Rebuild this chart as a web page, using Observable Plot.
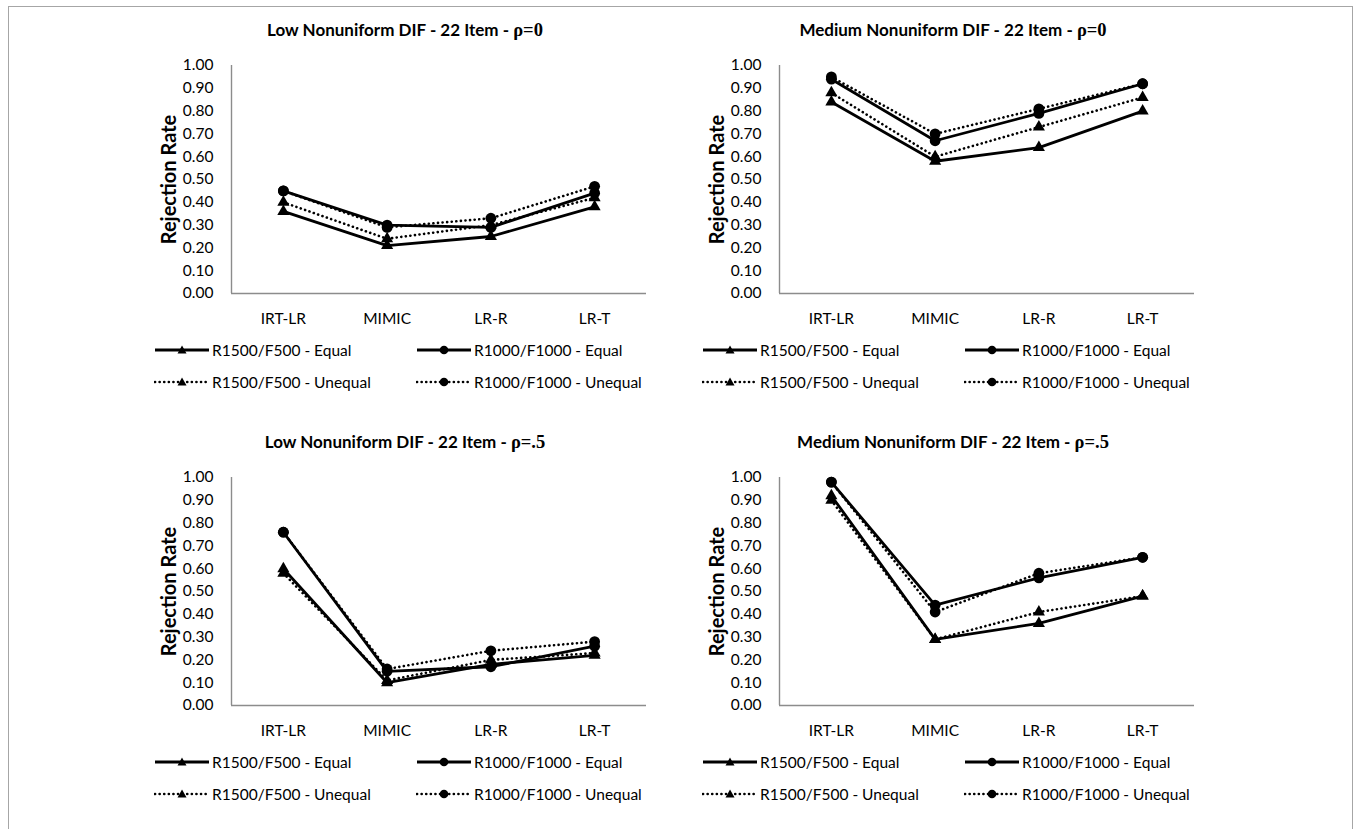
<!DOCTYPE html>
<html><head><meta charset="utf-8">
<script src="https://cdn.jsdelivr.net/npm/d3@7"></script>
<script src="https://cdn.jsdelivr.net/npm/@observablehq/plot@0.6"></script>
<style>
body{margin:0;background:#fff;}
#root{position:relative;width:1356px;height:829px;overflow:hidden;font-family:Lato,sans-serif;color:#000;}
.border{position:absolute;left:8px;top:6px;width:1345px;height:840px;border:1.5px solid #a6a6a6;box-sizing:border-box;}
.title{position:absolute;width:530px;text-align:center;font-weight:bold;font-size:17px;line-height:20px;white-space:nowrap;}
.title .rho{font-family:"Liberation Serif",serif;font-weight:bold;font-size:18.5px;}
.panel{position:absolute;}
.leg{position:absolute;font-size:15.5px;line-height:16px;white-space:nowrap;display:flex;align-items:center;}
.leg svg{margin-right:2px;}
</style></head>
<body><div id="root"><div class="border"></div></div>
<script>
const categories = ["IRT-LR", "MIMIC", "LR-R", "LR-T"];
const seriesNames = ["R1500/F500 - Equal", "R1000/F1000 - Equal", "R1500/F500 - Unequal", "R1000/F1000 - Unequal"];
const yTicks = [0, 0.1, 0.2, 0.3, 0.4, 0.5, 0.6, 0.7, 0.8, 0.9, 1.0];
const titleMain = ["Low Nonuniform DIF - 22 Item - ", "Medium Nonuniform DIF - 22 Item - ", "Low Nonuniform DIF - 22 Item - ", "Medium Nonuniform DIF - 22 Item - "];
const titleRho = ["ρ=0", "ρ=0", "ρ=.5", "ρ=.5"];
const yLabel = "Rejection Rate";

// values: [series][category]
const lowRho0 = [
  [0.36, 0.21, 0.25, 0.38],
  [0.45, 0.30, 0.29, 0.44],
  [0.40, 0.24, 0.30, 0.42],
  [0.45, 0.29, 0.33, 0.47]
];
const medRho0 = [
  [0.84, 0.58, 0.64, 0.80],
  [0.94, 0.67, 0.79, 0.92],
  [0.88, 0.60, 0.73, 0.86],
  [0.95, 0.70, 0.81, 0.92]
];
const lowRho5 = [
  [0.60, 0.10, 0.18, 0.22],
  [0.76, 0.15, 0.17, 0.26],
  [0.58, 0.11, 0.20, 0.23],
  [0.76, 0.16, 0.24, 0.28]
];
const medRho5 = [
  [0.92, 0.29, 0.36, 0.48],
  [0.98, 0.44, 0.56, 0.65],
  [0.90, 0.29, 0.41, 0.48],
  [0.98, 0.41, 0.58, 0.65]
];
const panelData = [lowRho0, medRho0, lowRho5, medRho5];

const panelPos = [
  {left: 140, top: 55},
  {left: 688, top: 55},
  {left: 140, top: 467},
  {left: 688, top: 467}
];

const root = document.getElementById("root");
const dotted = "0.1,4.5";

function makePanel(values) {
  const rows = [];
  values.forEach((vals, si) => vals.forEach((v, ci) => rows.push({si, x: ci, y: v})));
  const marks = [
    Plot.ruleY([0], {stroke: "#8c8c8c", strokeWidth: 1.4}),
    Plot.ruleX([-0.5], {stroke: "#8c8c8c", strokeWidth: 1.4})
  ];
  seriesNames.forEach((s, si) => {
    const dash = si >= 2;
    marks.push(Plot.line(rows.filter(r => r.si === si), {
      x: "x", y: "y", stroke: "#000", strokeWidth: dash ? 2.6 : 2.8,
      strokeDasharray: dash ? dotted : null, strokeLinecap: dash ? "round" : "butt"
    }));
  });
  marks.push(Plot.dot(rows.filter(r => r.si % 2 === 0), {x: "x", y: "y", symbol: "triangle", r: 4.5, fill: "#000", stroke: "none"}));
  marks.push(Plot.dot(rows.filter(r => r.si % 2 === 1), {x: "x", y: "y", symbol: "circle", r: 5.4, fill: "#000", stroke: "none"}));
  marks.push(Plot.text([yLabel], {frameAnchor: "left", textAnchor: "middle", rotate: -90, dx: -62, fontWeight: "bold", fontSize: 20, fill: "#000"}));
  return Plot.plot({
    width: 530, height: 280,
    marginLeft: 91, marginRight: 24, marginTop: 10, marginBottom: 42,
    style: {fontFamily: "Lato, sans-serif", fontSize: "15.5px", color: "#000", background: "transparent"},
    x: {type: "linear", domain: [-0.5, 3.5], ticks: [0, 1, 2, 3], tickFormat: i => categories[i], tickSize: 0, tickPadding: 19, label: null},
    y: {domain: [0, 1], ticks: yTicks, tickFormat: d3.format(".2f"), tickSize: 0, tickPadding: 18, label: null},
    marks
  });
}

function swatch(si) {
  const ns = "http://www.w3.org/2000/svg";
  const svg = document.createElementNS(ns, "svg");
  svg.setAttribute("width", 56); svg.setAttribute("height", 12);
  const line = document.createElementNS(ns, "line");
  line.setAttribute("x1", 1); line.setAttribute("x2", 55); line.setAttribute("y1", 6); line.setAttribute("y2", 6);
  line.setAttribute("stroke", "#000");
  if (si >= 2) { line.setAttribute("stroke-width", 2.6); line.setAttribute("stroke-dasharray", dotted); line.setAttribute("stroke-linecap", "round"); }
  else line.setAttribute("stroke-width", 2.8);
  svg.appendChild(line);
  if (si % 2 === 0) {
    const p = document.createElementNS(ns, "path");
    p.setAttribute("d", "M28,1.5 L32.5,9.5 L23.5,9.5 Z"); p.setAttribute("fill", "#000");
    svg.appendChild(p);
  } else {
    const c = document.createElementNS(ns, "circle");
    c.setAttribute("cx", 28); c.setAttribute("cy", 6); c.setAttribute("r", 4.3); c.setAttribute("fill", "#000");
    svg.appendChild(c);
  }
  return svg;
}

panelData.forEach((vals, i) => {
  const pos = panelPos[i];
  const t = document.createElement("div");
  t.className = "title";
  t.style.left = pos.left + "px";
  t.style.top = (pos.top - 35) + "px";
  t.append(titleMain[i]);
  const r = document.createElement("span"); r.className = "rho"; r.textContent = titleRho[i];
  t.appendChild(r);
  root.appendChild(t);

  const p = document.createElement("div");
  p.className = "panel";
  p.style.left = pos.left + "px"; p.style.top = pos.top + "px";
  p.appendChild(makePanel(vals));
  root.appendChild(p);

  const axisX = pos.left + 91;
  const legRows = [pos.top + 295, pos.top + 327];
  const legCols = [axisX - 77, axisX + 185];
  seriesNames.forEach((s, si) => {
    const d = document.createElement("div");
    d.className = "leg";
    d.style.left = legCols[si % 2] + "px";
    d.style.top = (legRows[Math.floor(si / 2)] - 8) + "px";
    d.appendChild(swatch(si));
    d.append(s);
    root.appendChild(d);
  });
});
</script></body></html>
